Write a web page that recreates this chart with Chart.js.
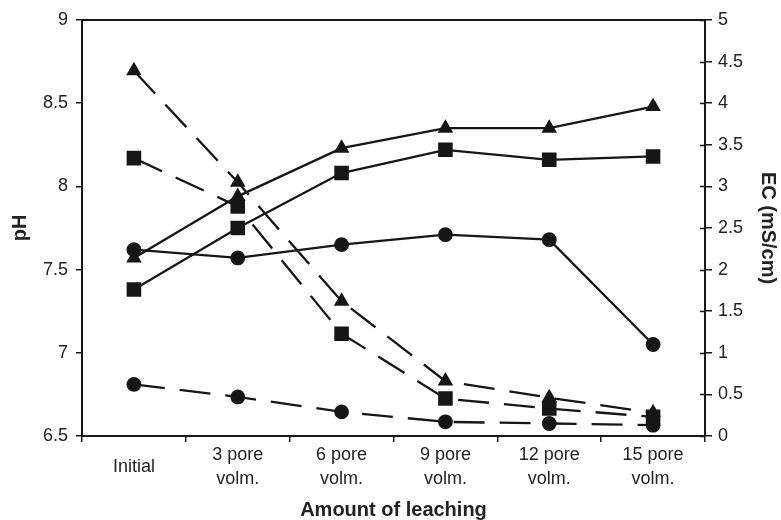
<!DOCTYPE html>
<html>
<head>
<meta charset="utf-8">
<script src="https://cdn.jsdelivr.net/npm/chart.js@4/dist/chart.umd.min.js"></script>
<style>
  html, body { margin: 0; padding: 0; background: #fff; }
  #wrap { width: 781px; height: 520px; }
</style>
</head>
<body>
<div id="wrap"><canvas id="c" width="781" height="520"></canvas></div>
<script>
// Leaching stages
const categories = ['Initial', ['3 pore', 'volm.'], ['6 pore', 'volm.'], ['9 pore', 'volm.'], ['12 pore', 'volm.'], ['15 pore', 'volm.']];

// pH (left axis, solid lines)
const phTriangle = [7.57, 7.94, 8.23, 8.35, 8.35, 8.48];
const phSquare   = [7.38, 7.75, 8.08, 8.22, 8.16, 8.18];
const phCircle   = [7.62, 7.57, 7.65, 7.71, 7.68, 7.05];

// EC in mS/cm (right axis, dashed lines)
const ecTriangle = [4.39, 3.05, 1.62, 0.66, 0.46, 0.28];
const ecSquare   = [3.34, 2.76, 1.23, 0.45, 0.33, 0.23];
const ecCircle   = [0.62, 0.47, 0.29, 0.17, 0.15, 0.13];

// Axis ranges
const phRange = { min: 6.5, max: 9, step: 0.5 };
const ecRange = { min: 0, max: 5, step: 0.5 };

const INK = '#161616';
const TEXT = '#222222';
const FONT = '"Liberation Sans", Arial, Helvetica, sans-serif';
const DASH = [31, 15];

// Plain tick numbers: 9, 8.5, 8 ...
const plainNumber = v => String(Math.round(v * 10) / 10);

function series(data, shape, axis, dashed) {
  const r = shape === 'rect' ? 10.3 : (shape === 'triangle' ? 9 : 7.4);
  return {
    data,
    yAxisID: axis,
    borderColor: INK,
    backgroundColor: INK,
    borderWidth: 2.3,
    borderDash: dashed ? DASH : [],
    pointStyle: shape,
    pointRadius: r,
    pointHoverRadius: r,
    pointBorderWidth: 0,
    pointBackgroundColor: INK,
    tension: 0,
    fill: false
  };
}

// Closes the plot box on top and adds the inward half of the right-axis ticks
const frame = {
  id: 'frame',
  afterDraw(chart) {
    const { ctx, chartArea: a, scales } = chart;
    ctx.save();
    ctx.strokeStyle = INK;
    ctx.lineWidth = 2;
    ctx.beginPath();
    ctx.moveTo(a.left - 1, a.top);
    ctx.lineTo(a.right + 1, a.top);
    ctx.stroke();
    ctx.lineWidth = 1.5;
    ctx.beginPath();
    scales.y1.ticks.forEach(t => {
      const y = Math.round(scales.y1.getPixelForValue(t.value)) + 0.5;
      ctx.moveTo(a.right - 5, y);
      ctx.lineTo(a.right, y);
    });
    ctx.stroke();
    ctx.restore();
  }
};

new Chart(document.getElementById('c'), {
  type: 'line',
  data: {
    labels: categories,
    datasets: [
      series(phTriangle, 'triangle', 'y', false),
      series(phSquare, 'rect', 'y', false),
      series(phCircle, 'circle', 'y', false),
      series(ecTriangle, 'triangle', 'y1', true),
      series(ecSquare, 'rect', 'y1', true),
      series(ecCircle, 'circle', 'y1', true)
    ]
  },
  options: {
    responsive: false,
    animation: false,
    devicePixelRatio: 1,
    layout: { padding: { top: 20, left: 0, right: 0, bottom: 0 } },
    plugins: { legend: { display: false }, tooltip: { enabled: false } },
    scales: {
      x: {
        type: 'category',
        offset: true,
        grid: { display: true, offset: true, drawOnChartArea: false, drawTicks: true, tickLength: 6, color: INK, lineWidth: 1.5 },
        border: { display: true, color: INK, width: 2 },
        ticks: {
          color: TEXT, font: { family: FONT, size: 18, lineHeight: 1.33 },
          padding: 13, maxRotation: 0, autoSkip: false, crossAlign: 'center'
        },
        title: {
          display: true, text: 'Amount of leaching', color: TEXT,
          font: { family: FONT, size: 20, weight: 'bold', lineHeight: 1 },
          padding: { top: 0, bottom: 0 }
        },
        afterFit(s) { s.height = 84; }
      },
      y: {
        position: 'left',
        min: phRange.min, max: phRange.max,
        grid: { display: true, drawOnChartArea: false, drawTicks: true, tickLength: 6, color: INK, lineWidth: 1.5 },
        border: { display: true, color: INK, width: 2 },
        ticks: { stepSize: phRange.step, color: TEXT, font: { family: FONT, size: 18 }, padding: 8, callback: plainNumber },
        title: {
          display: true, text: 'pH', color: TEXT,
          font: { family: FONT, size: 20, weight: 'bold', lineHeight: 1 },
          padding: { top: 10, bottom: 0 }
        },
        afterFit(s) { s.width = 82; }
      },
      y1: {
        position: 'right',
        min: ecRange.min, max: ecRange.max,
        grid: { display: true, drawOnChartArea: false, drawTicks: true, tickLength: 7, color: INK, lineWidth: 1.5 },
        border: { display: true, color: INK, width: 2 },
        ticks: { stepSize: ecRange.step, color: TEXT, font: { family: FONT, size: 18 }, padding: 6, callback: plainNumber },
        title: {
          display: true, text: 'EC (mS/cm)', color: TEXT,
          font: { family: FONT, size: 20, weight: 'bold', lineHeight: 1 },
          padding: { top: 3, bottom: 0 }
        },
        afterFit(s) { s.width = 76; }
      }
    }
  },
  plugins: [frame]
});
</script>
</body>
</html>
